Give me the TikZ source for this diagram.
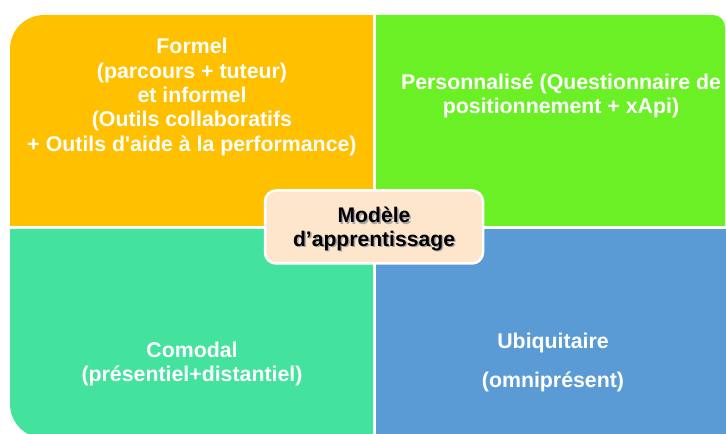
\documentclass[tikz,border=0pt]{standalone}
\usepackage{fontspec}
\setmainfont{Liberation Sans}

\definecolor{formelorange}{HTML}{FFC000}
\definecolor{persogreen}{HTML}{6AF024}
\definecolor{comodalgreen}{HTML}{43E29D}
\definecolor{ubiblue}{HTML}{5B9BD5}
\definecolor{modelepeach}{HTML}{FDE6CC}

\begin{document}
\begin{tikzpicture}[x=1bp, y=-1bp,
        quadtext/.style={text=white, align=center, font=\fontsize{21.4}{24.5}\selectfont\bfseries},
        modelebox/.style={fill=modelepeach, draw=white, line width=2.5bp, rounded corners=11bp,
            minimum width=218bp, minimum height=73bp},
        modeletext/.style={align=center, font=\fontsize{21.2}{24}\selectfont\bfseries}]
        % Page
        \useasboundingbox (0,0) rectangle (726,434);

        % Quadrants
        \fill[formelorange] (373,226) -- (10,226) [rounded corners=34bp] -- (10,15) [sharp corners] -- (373,15) -- cycle;
        \fill[persogreen] (376,226) -- (376,15) [rounded corners=12bp] -- (725,15) [sharp corners] -- (725,226) -- cycle;
        \fill[comodalgreen] (373,229) -- (10,229) [rounded corners=34bp] -- (10,438) [sharp corners] -- (373,438) -- cycle;
        \fill[ubiblue] (376,229) rectangle (726,434);

        % Quadrant texts
        \node[quadtext] (formel) at (192,97) {Formel\\(parcours + tuteur)\\et informel\\(Outils collaboratifs\\+ Outils d\textquotesingle aide à la performance)};
        \node[quadtext] (perso) at (561,96) {Personnalisé (Questionnaire de\\positionnement + xApi)};
        \node[quadtext] (comodal) at (192,364) {Comodal\\(présentiel+distantiel)};
        \node[quadtext] (ubi) at (553,362.5) {Ubiquitaire\\[15bp](omniprésent)};

        % Centre box with shadowed text
        \node[modelebox] (modele) at (374,227) {};
        \node[modeletext, text=black!35] (modeleshadow) at (375.5,230.5) {Modèle\\d’apprentissage};
        \node[modeletext] (modeletext) at (374,229) {Modèle\\d’apprentissage};
    \end{tikzpicture}
\end{document}
